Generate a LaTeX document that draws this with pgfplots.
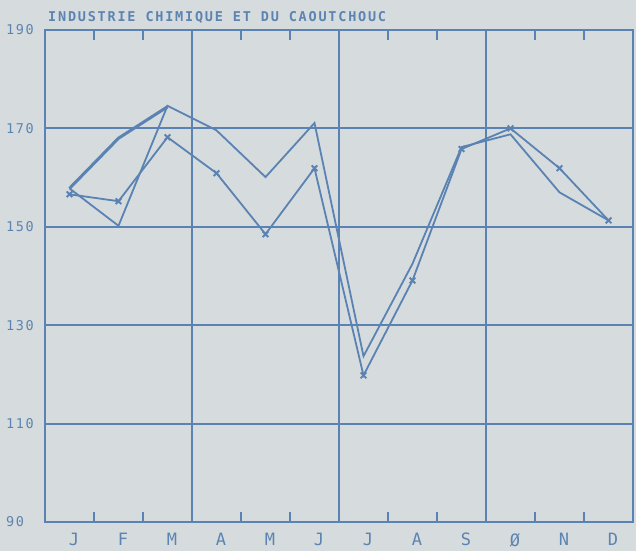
\documentclass[border=0pt]{standalone}
\usepackage{pgfplots}
\pgfplotsset{compat=1.18}
\usepackage{fontspec}
\setmainfont{DejaVu Sans Mono}[LetterSpace=11.5]
\definecolor{linec}{RGB}{90,130,178}
\definecolor{textc}{RGB}{92,132,178}
\definecolor{bgc}{RGB}{214,219,222}
\begin{document}
\begin{tikzpicture}
\fill[bgc, use as bounding box] (-45pt,-29pt) rectangle (591pt,522pt);
\begin{axis}[
  scale only axis, width=588pt, height=492pt,
  xmin=0, xmax=12, ymin=90, ymax=190,
  clip=false,
  axis line style={line width=2pt, draw=linec},
  xtick={0.59,1.59,2.59,3.59,4.59,5.59,6.59,7.59,8.59,9.59,10.59,11.59},
  xticklabels={J,F,M,A,M,J,J,A,S,\O,N,D},
  major tick length=0pt,
  minor xtick={1,2,4,5,7,8,10,11},
  minor tick length=10pt,
  minor tick style={line width=1.8pt, draw=linec},
  extra x ticks={3,6,9},
  extra x tick labels={},
  extra x tick style={grid=major, major tick length=0pt},
  ytick={90,110,130,150,170,190},
  ymajorgrids,
  major grid style={line width=1.9pt, draw=linec},
  /pgf/number format/assume math mode=true,
  xticklabel style={font=\fontsize{17}{20}\selectfont, text=textc, inner sep=0pt, anchor=north, yshift=-11pt},
  yticklabel style={font=\fontsize{13.5}{16}\selectfont, text=textc, inner sep=0pt, anchor=west, xshift=-39pt},
  every axis plot/.append style={line width=1.8pt, draw=linec},
]
% thick series (Jan-Mar)
\addplot[no marks, line width=3pt, draw=linec] coordinates {
(0.5,157.8) (1.5,168.0) (2.5,174.4)
};
% plain series
\addplot[no marks] coordinates {
(0.5,157.8) (1.5,150.2) (2.5,174.6) (3.5,169.6) (4.5,160.1) (5.5,171.1)
(6.5,123.7) (7.5,142.5) (8.5,166.2) (9.5,168.8) (10.5,157.0) (11.5,151.3)
};
% marked series
\addplot[mark=x, mark size=4pt, mark options={line width=1.9pt, draw=linec}] coordinates {
(0.5,156.6) (1.5,155.2) (2.5,168.2) (3.5,160.9) (4.5,148.5) (5.5,161.9)
(6.5,119.8) (7.5,139.1) (8.5,165.8) (9.5,170.0) (10.5,161.9) (11.5,151.3)
};
\node[anchor=base west, inner sep=0pt, xshift=3pt, yshift=8.3pt, text=textc,
  font=\fontsize{13.5}{16}\selectfont\bfseries\addfontfeature{LetterSpace=13.2}] at (rel axis cs:0,1) {INDUSTRIE CHIMIQUE ET DU CAOUTCHOUC};
\end{axis}
\end{tikzpicture}
\end{document}
